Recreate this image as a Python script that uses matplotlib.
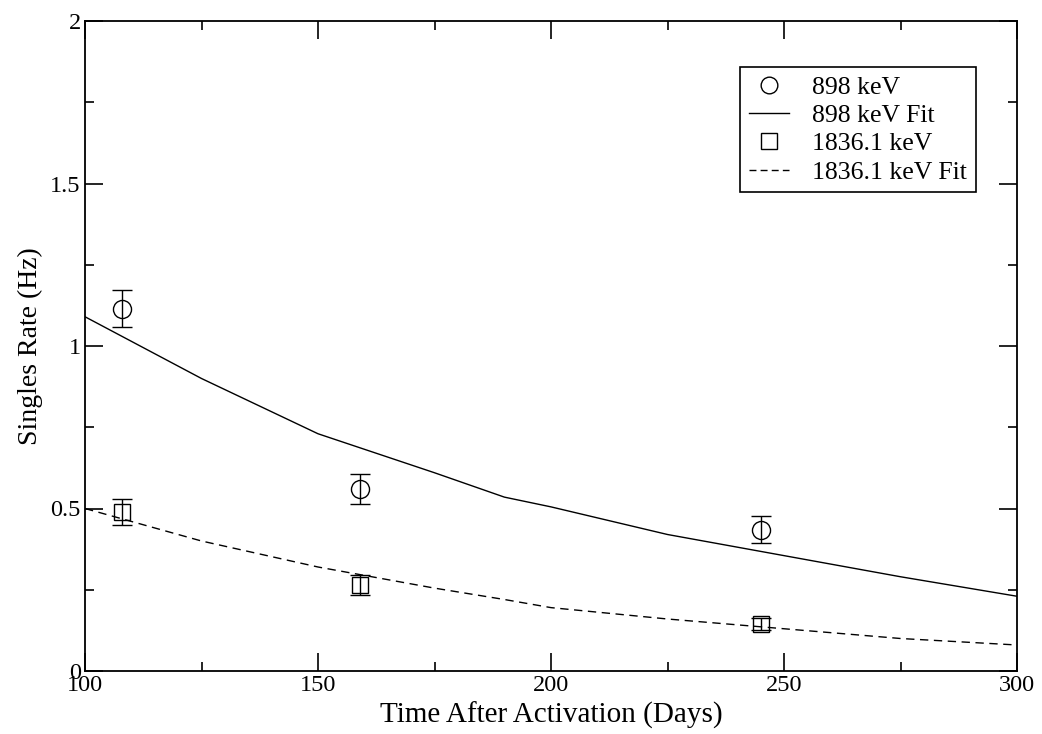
import matplotlib
matplotlib.use("Agg")
import matplotlib.pyplot as plt
from matplotlib.ticker import MultipleLocator
from matplotlib.lines import Line2D

# Data
days = [108, 159, 245]
rate_898 = [1.115, 0.56, 0.435]
err_898 = [0.057, 0.045, 0.042]
rate_1836 = [0.49, 0.265, 0.145]
err_1836 = [0.04, 0.03, 0.018]

fit_days = [100, 125, 150, 175, 190, 200, 225, 250, 275, 300]
fit_898 = [1.09, 0.90, 0.73, 0.61, 0.535, 0.505, 0.42, 0.355, 0.29, 0.23]
fit_1836 = [0.50, 0.40, 0.32, 0.255, 0.22, 0.195, 0.16, 0.13, 0.10, 0.08]

labels = ['898 keV', '898 keV Fit', '1836.1 keV', '1836.1 keV Fit']

plt.rcParams['font.family'] = ['Liberation Serif', 'DejaVu Serif']

fig = plt.figure(figsize=(10.42, 7.34), dpi=100)
ax = fig.add_axes([85/1042, 1-671/734, 932/1042, 650/734])

lw = 1.0
dash = (0, (6, 4))
ax.errorbar(days, rate_898, yerr=err_898, fmt='o', mfc='none', mec='black',
            ms=13, mew=lw, ecolor='black', elinewidth=lw, capsize=7, capthick=lw)
ax.plot(fit_days, fit_898, '-', color='black', lw=lw)
ax.errorbar(days, rate_1836, yerr=err_1836, fmt='s', mfc='none', mec='black',
            ms=12, mew=lw, ecolor='black', elinewidth=lw, capsize=7, capthick=lw)
ax.plot(fit_days, fit_1836, color='black', lw=lw, linestyle=dash)

ax.set_xlim(100, 300)
ax.set_ylim(0, 2)
ax.xaxis.set_major_locator(MultipleLocator(50))
ax.xaxis.set_minor_locator(MultipleLocator(25))
ax.yaxis.set_major_locator(MultipleLocator(0.5))
ax.yaxis.set_minor_locator(MultipleLocator(0.25))
ax.set_yticks([0, 0.5, 1, 1.5, 2])
ax.set_yticklabels(['0', '0.5', '1', '1.5', '2'])
ax.tick_params(which='both', direction='in', top=True, right=True,
               labelsize=17.5, width=1.2, colors='black')
ax.tick_params(which='major', length=13, pad=3)
ax.tick_params(which='minor', length=6.5)
for s in ax.spines.values():
    s.set_linewidth(1.3)

ax.set_xlabel('Time After Activation (Days)', fontsize=21, labelpad=4)
ax.set_ylabel('Singles Rate (Hz)', fontsize=20, labelpad=5)

handles = [
    Line2D([], [], marker='o', linestyle='none', mfc='none', mec='black', ms=12, mew=lw),
    Line2D([], [], color='black', lw=lw),
    Line2D([], [], marker='s', linestyle='none', mfc='none', mec='black', ms=11, mew=lw),
    Line2D([], [], color='black', lw=lw, linestyle=(0, (5, 3))),
]
leg = ax.legend(handles, labels, loc='upper right', bbox_to_anchor=(0.956, 0.929),
                fontsize=18.5, frameon=True, fancybox=False, edgecolor='black',
                framealpha=1, handlelength=1.57, borderpad=0.35, labelspacing=0.2,
                handletextpad=0.9, borderaxespad=0)
leg.get_frame().set_linewidth(1.2)

fig.savefig('out.png', dpi=100)
